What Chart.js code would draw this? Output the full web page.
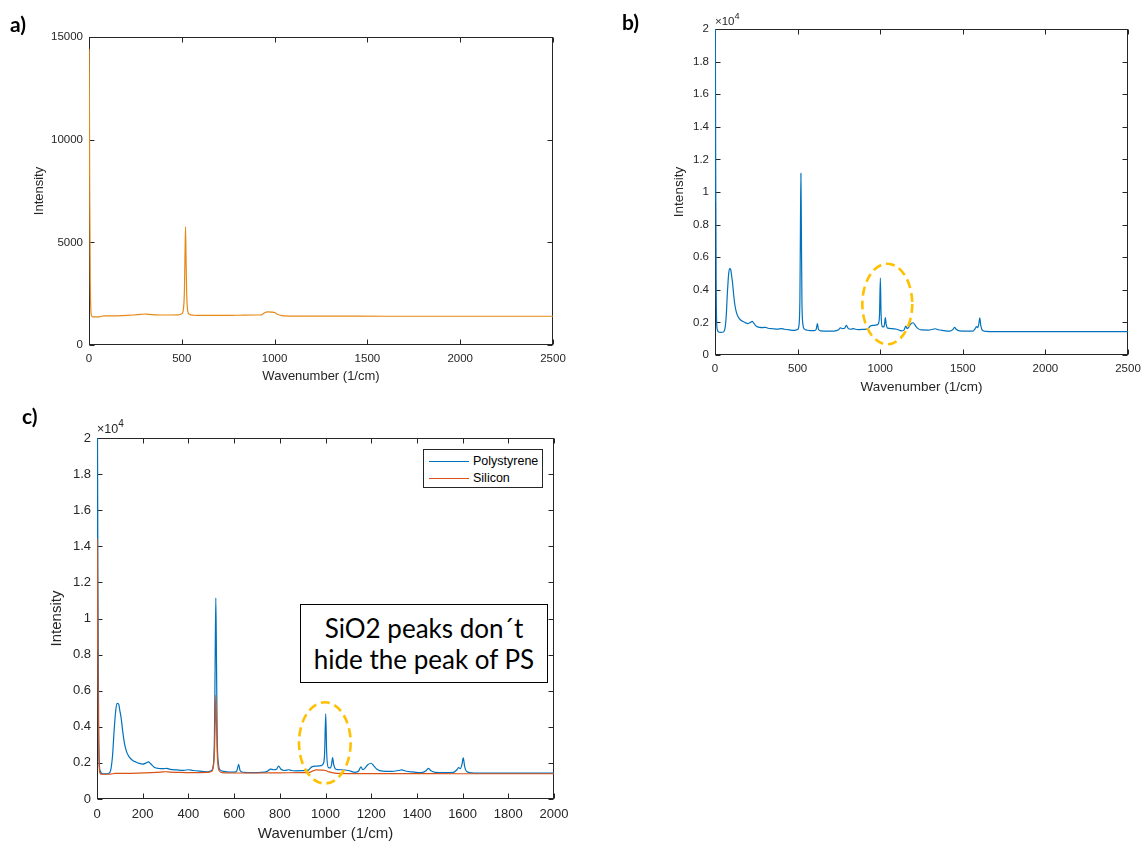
<!DOCTYPE html>
<html lang="en">
<head>
    <meta charset="UTF-8">
    <title>Raman spectra</title>
    <script src="https://cdn.jsdelivr.net/npm/chart.js@4.4.1/dist/chart.umd.min.js"></script>
    <style>
        html, body { margin: 0; padding: 0; background: #fff; }
        #page { position: relative; width: 1148px; height: 844px; overflow: hidden; }
        #page canvas { position: absolute; left: 0; top: 0; }
        .panel { position: absolute; font-family: Lato, 'Noto Sans', sans-serif; font-weight: 700; font-size: 21px; color: #000; }
        .expo { position: absolute; font-family: 'Liberation Sans', Arial, sans-serif; color: #262626; white-space: nowrap; }
        .expo sup { font-size: 0.8em; position: relative; top: -0.15em; }
        #legend { position: absolute; left: 423px; top: 449px; width: 118px; height: 37px; border: 1px solid #262626; background: #fff;
                  font-family: 'Liberation Sans', Arial, sans-serif; font-size: 12.5px; color: #000; }
        #legend .row { position: absolute; left: 0; height: 16px; line-height: 16px; }
        #legend .sw { position: absolute; left: 5px; top: 8px; width: 40px; height: 0; border-top: 1.3px solid; }
        #legend .lbl { position: absolute; left: 49px; top: 0; white-space: nowrap; }
        #note { position: absolute; left: 300px; top: 604px; width: 248px; height: 79px; border: 1.5px solid #000; background: #fff;
                font-family: Lato, 'Noto Sans', sans-serif; font-size: 26px; line-height: 31px; text-align: center; color: #000;
                box-sizing: border-box; padding-top: 8px; }
    </style>
</head>
<body>
<div id="page">
    <canvas id="chartA" width="1148" height="844"></canvas>
    <canvas id="chartB" width="1148" height="844"></canvas>
    <canvas id="chartC" width="1148" height="844"></canvas>

    <div class="panel" style="left:10px; top:11px;">a)</div>
    <div class="panel" style="left:622px; top:9px;">b)</div>
    <div class="panel" style="left:22px; top:403px;">c)</div>

    <div class="expo" style="left:715px; top:12px; font-size:11.5px;">×10<sup>4</sup></div>
    <div class="expo" style="left:97px; top:419px; font-size:12.5px;">×10<sup>4</sup></div>

    <div id="legend">
        <div class="row" style="top:3px;"><span class="sw" style="color:#0072BD"></span><span class="lbl">Polystyrene</span></div>
        <div class="row" style="top:20px;"><span class="sw" style="color:#D95319"></span><span class="lbl">Silicon</span></div>
    </div>

    <div id="note">SiO2 peaks don´t<br>hide the peak of PS</div>
</div>

<script>
// Polystyrene spectrum (wavenumber, intensity)
const psX = [0, 1, 2, 4, 7, 10, 14, 20, 35, 50, 60, 68, 75, 82, 88, 95, 100, 106, 112, 120,
    130, 140, 155, 170, 185, 200, 215, 225, 235, 250, 270, 290, 305, 320, 350, 380, 400, 420, 450, 480,
    500, 508, 514, 517, 520, 523, 526, 532, 540, 560, 600, 612, 620, 626, 640, 680, 720, 745, 760, 772,
    785, 795, 805, 820, 840, 850, 870, 900, 925, 940, 960, 980, 990, 996, 1001, 1005, 1012, 1022, 1027, 1031,
    1036, 1045, 1070, 1100, 1130, 1145, 1155, 1163, 1172, 1185, 1200, 1210, 1225, 1250, 1290, 1320, 1333, 1350, 1380, 1420,
    1440, 1450, 1460, 1480, 1520, 1560, 1575, 1583, 1590, 1597, 1603, 1609, 1618, 1640, 1700, 1800, 2000, 2500];
const psY = [9400, 24000, 21000, 12000, 4500, 2000, 1550, 1430, 1390, 1410, 1600, 2400, 3800, 4900, 5300, 5250, 4900, 4450, 3800, 3100,
    2600, 2350, 2150, 2050, 1970, 1930, 2000, 2060, 1950, 1760, 1690, 1680, 1700, 1640, 1610, 1590, 1620, 1580, 1540, 1510,
    1560, 1800, 3500, 7500, 11150, 7500, 3500, 1900, 1600, 1520, 1490, 1560, 1920, 1580, 1480, 1460, 1470, 1530, 1660, 1620,
    1640, 1820, 1650, 1580, 1620, 1580, 1560, 1570, 1600, 1780, 1820, 1850, 1950, 2500, 4720, 2600, 1750, 1720, 1950, 2300,
    1900, 1650, 1620, 1580, 1480, 1550, 1780, 1620, 1700, 1900, 1980, 1850, 1650, 1540, 1530, 1580, 1610, 1550, 1500, 1460,
    1560, 1700, 1580, 1480, 1460, 1470, 1620, 1740, 1680, 1900, 2280, 1800, 1520, 1450, 1430, 1430, 1430, 1430];

// Silicon spectrum
const siX = [0, 1, 2, 4, 7, 10, 14, 20, 40, 60, 80, 120, 180, 240, 280, 300, 320, 360, 420, 480,
    500, 508, 514, 517, 520, 523, 526, 532, 540, 560, 620, 700, 800, 900, 930, 945, 960, 985, 1000, 1015,
    1040, 1100, 1300, 1600, 2000, 2500];
const siY = [8300, 14400, 12500, 7000, 3000, 1700, 1420, 1370, 1370, 1380, 1420, 1420, 1430, 1460, 1490, 1510, 1490, 1470, 1460, 1470,
    1520, 1700, 2600, 4200, 5750, 4200, 2600, 1650, 1500, 1450, 1440, 1440, 1450, 1460, 1470, 1560, 1610, 1600, 1580, 1500,
    1430, 1410, 1410, 1400, 1400, 1400];

const seriesNames = ['Polystyrene', 'Silicon'];
const xTicksAB = [0, 2500, 500];   // min, max, step
const xTicksC = [0, 2000, 200];
const yTicksA = [0, 15000, 5000];
const yTicksBC = [0, 20000, 2000];

const toPoints = (xs, ys) => xs.map((x, i) => ({ x, y: ys[i] }));

// box + inward ticks like a MATLAB axes, plus dashed highlight ellipse
const framePlugin = {
    id: 'frame',
    beforeDatasetsDraw(chart) {
        const { ctx, chartArea: a, scales: { x, y } } = chart;
        const L = Math.round(a.left) + 0.5, R = Math.round(a.right) - 0.5;
        const T = Math.round(a.top) + 0.5, B = Math.round(a.bottom) - 0.5;
        ctx.save();
        ctx.strokeStyle = '#262626';
        ctx.lineWidth = 1;
        ctx.beginPath();
        x.ticks.forEach(t => {
            const px = Math.round(x.getPixelForValue(t.value)) + 0.5;
            ctx.moveTo(px, B); ctx.lineTo(px, B - 5);
            ctx.moveTo(px, T); ctx.lineTo(px, T + 5);
        });
        y.ticks.forEach(t => {
            const py = Math.round(y.getPixelForValue(t.value)) + 0.5;
            ctx.moveTo(L, py); ctx.lineTo(L + 5, py);
            ctx.moveTo(R, py); ctx.lineTo(R - 5, py);
        });
        ctx.stroke();
        ctx.strokeRect(L, T, R - L, B - T);
        ctx.restore();
    },
    afterDraw(chart, args, opts) {
        const e = opts.ellipse;
        if (!e) return;
        const { ctx, scales: { x, y } } = chart;
        const cx = x.getPixelForValue(e.cx), cy = y.getPixelForValue(e.cy);
        const rx = Math.abs(x.getPixelForValue(e.cx + e.rx) - cx);
        const ry = Math.abs(y.getPixelForValue(e.cy + e.ry) - cy);
        ctx.save();
        ctx.strokeStyle = '#FFC000';
        ctx.lineWidth = 2.6;
        ctx.setLineDash([9, 5]);
        ctx.beginPath();
        ctx.ellipse(cx, cy, rx, ry, 0, 0, Math.PI * 2);
        ctx.stroke();
        ctx.restore();
    }
};

function makeChart(id, box, datasets, xt, yt, yFormat, ellipse) {
    const W = 1148, H = 844;
    const tOff = box.titleSize * 1.2 / 2 + 4;
    const padLeft = box.yTitleX - tOff;
    const padBottom = Math.max(0, H - box.xTitleY - tOff);
    const xTitlePad = H - padBottom - box.xTitleY - box.titleSize * 1.2 / 2;
    const tickFont = { family: "'Liberation Sans', Arial, sans-serif", size: box.tickSize };
    const titleFont = { family: "'Liberation Sans', Arial, sans-serif", size: box.titleSize };
    return new Chart(document.getElementById(id), {
        type: 'line',
        data: { datasets },
        plugins: [framePlugin],
        options: {
            responsive: false,
            animation: false,
            layout: { padding: { left: padLeft, top: box.top, right: W - box.right, bottom: padBottom } },
            plugins: { legend: { display: false }, tooltip: { enabled: false }, frame: { ellipse } },
            elements: { point: { radius: 0 } },
            scales: {
                x: {
                    type: 'linear', min: xt[0], max: xt[1],
                    ticks: { stepSize: xt[2], color: '#262626', font: tickFont, padding: box.xTickPad, maxRotation: 0,
                             callback: v => String(v) },
                    grid: { display: false, drawTicks: false },
                    border: { display: false },
                    title: { display: true, text: 'Wavenumber (1/cm)', color: '#262626', font: titleFont,
                             padding: { top: 0, bottom: xTitlePad } },
                    afterFit: s => { s.height = H - padBottom - box.bottom; s.paddingLeft = 0; s.paddingRight = 0; }
                },
                y: {
                    type: 'linear', min: yt[0], max: yt[1],
                    ticks: { stepSize: yt[2], color: '#262626', font: tickFont, padding: 6, callback: yFormat },
                    grid: { display: false, drawTicks: false },
                    border: { display: false },
                    title: { display: true, text: 'Intensity', color: '#262626', font: titleFont,
                             padding: { top: 4, bottom: 4 } },
                    afterFit: s => { s.width = box.left - padLeft; s.paddingTop = 0; s.paddingBottom = 0; }
                }
            }
        }
    });
}

const lineStyle = { borderWidth: 1.2, pointRadius: 0, fill: false, cubicInterpolationMode: 'monotone' };
const plain = v => String(v);
const scaled = v => String(parseFloat((v / 10000).toFixed(1)));

// a) silicon only
makeChart('chartA',
    { left: 89, top: 37, right: 553, bottom: 345, yTitleX: 39, xTitleY: 376, titleSize: 13, tickSize: 11.5, xTickPad: 7 },
    [{ label: seriesNames[1], data: toPoints(siX, siY), borderColor: '#E58A17', ...lineStyle }],
    xTicksAB, yTicksA, plain, null);

// b) polystyrene only
makeChart('chartB',
    { left: 715, top: 29, right: 1128, bottom: 355, yTitleX: 679, xTitleY: 387, titleSize: 13.5, tickSize: 11.5, xTickPad: 7 },
    [{ label: seriesNames[0], data: toPoints(psX, psY), borderColor: '#0072BD', ...lineStyle }],
    xTicksAB, yTicksBC, scaled, { cx: 1043, cy: 3130, rx: 151, ry: 2470 });

// c) both
makeChart('chartC',
    { left: 97, top: 438, right: 554, bottom: 799, yTitleX: 57, xTitleY: 834, titleSize: 15, tickSize: 13, xTickPad: 8 },
    [
        { label: seriesNames[1], data: toPoints(siX, siY), borderColor: '#D95319', ...lineStyle },
        { label: seriesNames[0], data: toPoints(psX, psY), borderColor: '#0072BD', ...lineStyle }
    ],
    xTicksC, yTicksBC, scaled, { cx: 997, cy: 3110, rx: 113, ry: 2250 });
</script>
</body>
</html>
